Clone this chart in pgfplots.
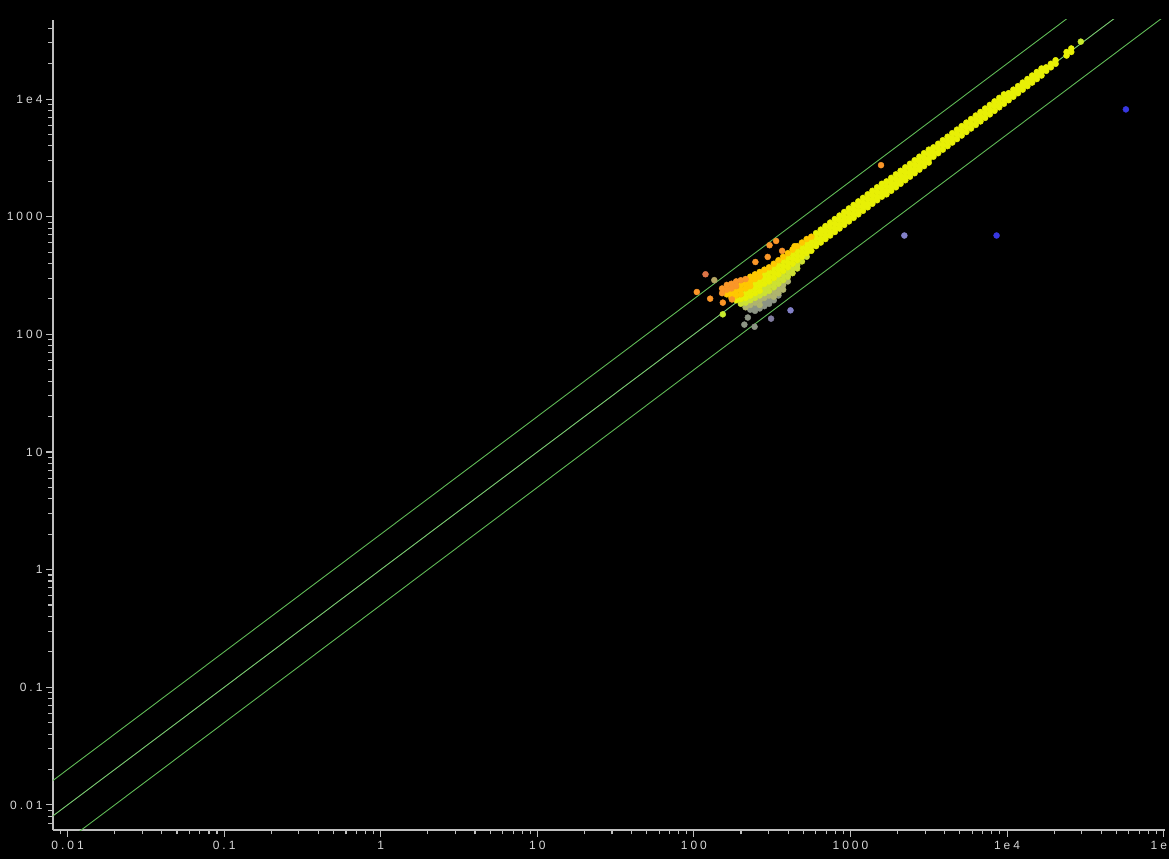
\documentclass[border=0pt]{standalone}
\usepackage{fontspec}
\setmainfont{Liberation Sans}
\newfontfamily\tickfont{Liberation Sans}[LetterSpace=25]
\usepackage{pgfplots}
\pgfplotsset{compat=1.18}
\definecolor{axcol}{RGB}{190,190,190}
\definecolor{labcol}{RGB}{215,215,215}
\definecolor{lncol}{RGB}{95,185,85}
\definecolor{cO}{RGB}{250,150,40}
\definecolor{cRO}{RGB}{220,115,70}
\definecolor{cG}{RGB}{255,200,0}
\definecolor{cY}{RGB}{232,240,5}
\definecolor{cYG}{RGB}{205,225,50}
\definecolor{cLG}{RGB}{200,235,45}
\definecolor{cOL}{RGB}{175,180,110}
\definecolor{cTAN}{RGB}{180,165,100}
\definecolor{cGR}{RGB}{140,148,132}
\definecolor{cPG}{RGB}{130,125,160}
\definecolor{cBG}{RGB}{130,128,200}
\definecolor{cB}{RGB}{55,55,225}
\pgfplotsset{pts/.style={only marks, mark=*, mark size=3pt, color=#1}}
\begin{document}
\begin{tikzpicture}
\fill[black] (0,0) rectangle (1169pt,859pt);
\begin{axis}[
  at={(53pt,29pt)}, anchor=south west,
  scale only axis, width=1112pt, height=810pt,
  xmode=log, ymode=log,
  xmin=0.00807, xmax=1.02e5, ymin=0.00612, ymax=4.7e4,
  axis lines=left, axis line style={-, draw=axcol, line width=1.3pt},
  tick align=outside, major tick length=7pt, minor tick length=4.5pt,
  tick style={draw=axcol, line width=1.1pt},
  xtick={0.01,0.1,1,10,100,1000,10000,100000},
  xticklabels={0.01,0.1,1,10,100,1000,1e4,1e5},
  ytick={0.01,0.1,1,10,100,1000,10000},
  yticklabels={0.01,0.1,1,10,100,1000,1e4},
  minor xtick={0.009,0.02,0.03,0.04,0.05,0.06,0.07,0.08,0.09,0.2,0.3,0.4,0.5,0.6,0.7,0.8,0.9,2,3,4,5,6,7,8,9,20,30,40,50,60,70,80,90,200,300,400,500,600,700,800,900,2000,3000,4000,5000,6000,7000,8000,9000,20000,30000,40000,50000,60000,70000,80000,90000},
  minor ytick={0.007,0.008,0.009,0.02,0.03,0.04,0.05,0.06,0.07,0.08,0.09,0.2,0.3,0.4,0.5,0.6,0.7,0.8,0.9,2,3,4,5,6,7,8,9,20,30,40,50,60,70,80,90,200,300,400,500,600,700,800,900,2000,3000,4000,5000,6000,7000,8000,9000,20000,30000,40000},
  tick label style={font=\tickfont\fontsize{12}{14}\selectfont, text=labcol},
  xticklabel style={yshift=-1pt},
]
% reference lines
\addplot[sharp plot, no marks, draw=lncol, line width=0.9pt] coordinates {(0.004,0.008) (2e5,4e5)};
\addplot[sharp plot, no marks, draw=lncol, line width=0.9pt] coordinates {(0.004,0.004) (2e5,2e5)};
\addplot[sharp plot, no marks, draw=lncol, line width=0.9pt] coordinates {(0.004,0.002) (2e5,1e5)};
% grey
\addplot[pts=cGR] coordinates {(229.1,162.2) (245.5,169.8) (245.5,158.5) (263.0,166.0) (281.8,186.2) (281.8,173.8) (302.0,195.0) (302.0,182.0) (323.6,195.0) (346.7,213.8) (221,139) (210,121) (244,116)};
\addplot[pts=cPG] coordinates {(311,136)};
\addplot[pts=cBG] coordinates {(414,160) (2208,692)};
% olive
\addplot[pts=cOL] coordinates {(213.8,169.8) (229.1,177.8) (245.5,186.2) (263.0,195.0) (263.0,177.8) (281.8,204.2) (302.0,213.8) (323.6,229.1) (323.6,208.9) (346.7,245.5) (346.7,223.9) (371.5,263.0) (371.5,239.9) (398.1,281.8)};
\addplot[pts=cTAN] coordinates {(135,289)};
% yellow-green
\addplot[pts=cYG] coordinates {(199.5,182.0) (213.8,186.2) (229.1,195.0) (245.5,204.2) (263.0,213.8) (281.8,245.5) (281.8,223.9) (302.0,257.0) (302.0,234.4) (323.6,275.4) (323.6,251.2) (346.7,295.1) (346.7,269.2) (371.5,316.2) (371.5,288.4) (398.1,338.8) (398.1,309.0) (426.6,363.1) (426.6,331.1) (457.1,389.0) (457.1,363.1) (489.8,416.9) (524.8,457.1)};
% yellow
\addplot[pts=cY] coordinates {(186.2,195.0) (199.5,199.5) (213.8,223.9) (213.8,204.2) (229.1,234.4) (229.1,213.8) (245.5,269.2) (245.5,245.5) (245.5,223.9) (263.0,281.8) (263.0,257.0) (263.0,234.4) (281.8,323.6) (281.8,295.1) (281.8,269.2) (302.0,338.8) (302.0,309.0) (302.0,281.8) (323.6,363.1) (323.6,331.1) (323.6,302.0) (346.7,389.0) (346.7,354.8) (346.7,323.6) (371.5,416.9) (371.5,380.2) (371.5,346.7) (398.1,446.7) (398.1,407.4) (398.1,371.5) (426.6,478.6) (426.6,436.5) (426.6,398.1) (457.1,512.9) (457.1,467.7) (457.1,426.6) (489.8,549.5) (489.8,501.2) (489.8,457.1) (524.8,588.8) (524.8,537.0) (524.8,489.8) (562.3,616.6) (562.3,562.3) (562.3,512.9)
(602.6,724.4) (602.6,660.7) (602.6,602.6) (602.6,562.3)
(645.7,776.2) (645.7,707.9) (645.7,645.7) (645.7,602.6)
(691.8,831.8) (691.8,758.6) (691.8,691.8) (691.8,645.7)
(741.3,891.3) (741.3,812.8) (741.3,741.3) (741.3,691.8)
(794.3,955.0) (794.3,871.0) (794.3,794.3) (794.3,741.3)
(851.1,1023) (851.1,933.3) (851.1,851.1) (851.1,794.3)
(912.0,1096) (912.0,1000) (912.0,912.0) (912.0,851.1)
(977.2,1175) (977.2,1072) (977.2,977.2) (977.2,912.0)
(1047,1259) (1047,1148) (1047,1047) (1047,977.2)
(1122,1349) (1122,1230) (1122,1122) (1122,1047)
(1202,1445) (1202,1318) (1202,1202) (1202,1122)
(1288,1549) (1288,1413) (1288,1288) (1288,1202)
(1380,1660) (1380,1514) (1380,1380) (1380,1288)
(1479,1778) (1479,1622) (1479,1479) (1479,1380)
(1585,1905) (1585,1738) (1585,1585) (1585,1479)
(1698,1995) (1698,1820) (1698,1660) (1698,1549)
(1820,2138) (1820,1950) (1820,1778) (1820,1660)
(1950,2291) (1950,2089) (1950,1905) (1950,1778)
(2089,2455) (2089,2239) (2089,2042) (2089,1905)
(2239,2630) (2239,2399) (2239,2188) (2239,2042)
(2399,2818) (2399,2570) (2399,2344) (2399,2188)
(2570,3020) (2570,2754) (2570,2512) (2570,2344)
(2754,3236) (2754,2951) (2754,2692) (2754,2512)
(2951,3467) (2951,3162) (2951,2884) (2951,2692)
(3162,3715) (3162,3388) (3162,3090) (3162,2884)
(3388,3890) (3388,3548) (3388,3236)
(3631,4169) (3631,3802) (3631,3467)
(3890,4467) (3890,4074) (3890,3715)
(4169,4786) (4169,4365) (4169,3981)
(4467,5129) (4467,4677) (4467,4266)
(4786,5495) (4786,5012) (4786,4571)
(5129,5888) (5129,5370) (5129,4898)
(5495,6310) (5495,5754) (5495,5248)
(5888,6761) (5888,6166) (5888,5623)
(6310,7244) (6310,6607) (6310,6026)
(6761,7762) (6761,7079) (6761,6457)
(7244,8318) (7244,7586) (7244,6918)
(7762,8913) (7762,8128) (7762,7413)
(8318,9550) (8318,8710) (8318,7943)
(8913,10233) (8913,9333) (8913,8511)
(9550,10965) (9550,10000) (9550,9120)
(10233,11220) (10233,10471) (10233,9772)
(10965,12023) (10965,11220) (10965,10471)
(11749,12882) (11749,12023) (11749,11220)
(12589,13804) (12589,12882) (12589,12023)
(13490,14791) (13490,13804) (13490,12882)
(14454,15849) (14454,14791) (14454,13804)
(15488,16982) (15488,15849) (15488,14791)
(16596,18197) (16596,16982) (16596,15849)
(17783,18621) (17783,17378)
(19055,19953) (19055,18621)
(20417,21380) (20417,19953)
(23988,25119) (23988,23442)
(25704,26915) (25704,25119)};
\addplot[pts=cLG] coordinates {(29580,30760) (153,148)};
% gold
\addplot[pts=cG] coordinates {(162.2,218.8) (173.8,223.9) (173.8,204.2) (186.2,234.4) (186.2,213.8) (199.5,263.0) (199.5,239.9) (199.5,218.8) (213.8,269.2) (213.8,245.5) (229.1,309.0) (229.1,281.8) (229.1,257.0) (245.5,323.6) (245.5,295.1) (263.0,338.8) (263.0,309.0) (281.8,354.8) (302.0,371.5) (323.6,398.1) (346.7,426.6) (371.5,457.1) (398.1,489.8) (426.6,524.8) (457.1,562.3) (489.8,602.6) (524.8,645.7) (562.3,676.1) (439,561)};
% orange
\addplot[pts=cO] coordinates {(151.4,245.5) (151.4,223.9) (162.2,263.0) (162.2,239.9) (173.8,269.2) (173.8,245.5) (186.2,281.8) (186.2,257.0) (199.5,288.4) (213.8,295.1) (104.4,229) (127,201) (153,186) (175,198) (247,412) (296,455) (366,512) (304,572) (335,622) (1567,2742)};
\addplot[pts=cRO] coordinates {(118.6,324)};
% blue
\addplot[pts=cB] coordinates {(8570,692) (57400,8170)};
% middle reference line drawn faintly over the band
\addplot[sharp plot, no marks, draw=lncol!60!white, line width=0.6pt, opacity=0.5] coordinates {(0.004,0.004) (2e5,2e5)};
\end{axis}
\pgfresetboundingbox
\useasboundingbox (0,0) rectangle (1169pt,859pt);
\end{tikzpicture}
\end{document}
